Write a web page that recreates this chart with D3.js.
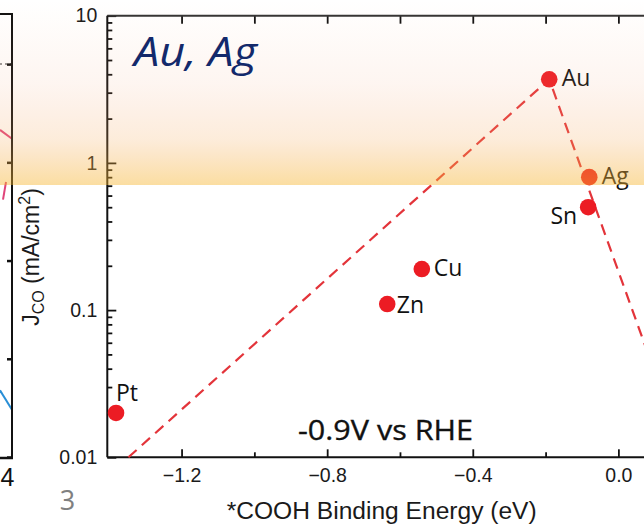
<!DOCTYPE html>
<html>
<head>
<meta charset="utf-8">
<script src="https://cdn.jsdelivr.net/npm/d3@7"></script>
<style>
  html, body { margin: 0; padding: 0; background: #fff; }
  svg { display: block; }
</style>
</head>
<body>
<div id="chart"></div>
<script>
// ---------------- DATA ----------------
const metals = ["Pt", "Zn", "Cu", "Au", "Ag", "Sn"];
const bindingEnergy = [-1.38, -0.635, -0.54, -0.19, -0.08, -0.083];   // *COOH binding energy (eV)
const jCO = [0.02, 0.11, 0.19, 3.7, 0.8, 0.5];                          // mA/cm2
const volcanoX = [-1.346, -0.19, 0.184];
const volcanoY = [0.01, 3.7, 0.01];
const xMajorTicks = [-1.2, -0.8, -0.4, 0.0];
const xMinorTicks = [-1.0, -0.6, -0.2, 0.2];
const xTopTicks = [-1.2, -1.0, -0.8, -0.6, -0.4, -0.2, 0.0, 0.2];
const yMajorTicks = [0.01, 0.1, 1, 10];
const yTickLabels = ["0.01", "0.1", "1", "10"];
// fragment of neighbouring panel (left edge)
const fragTicks = [0, 1, 2, 3, 4];
const fragPink1 = [[0, 3.33], [1, 3.24]];
const fragPink2 = [[0.25, 2.62], [0.5, 2.8]];
const fragBlue = [[0, 0.68], [1, 0.48]];

// ---------------- LAYOUT ----------------
const W = 644, H = 527;
const svg = d3.select("#chart").append("svg").attr("width", W).attr("height", H);

const defs = svg.append("defs");
const grad = defs.append("linearGradient").attr("id", "band").attr("x1", 0).attr("y1", 0).attr("x2", 0).attr("y2", 1);
grad.append("stop").attr("offset", "0%").attr("stop-color", "#f4a070").attr("stop-opacity", 0.0);
grad.append("stop").attr("offset", "45%").attr("stop-color", "#f2a072").attr("stop-opacity", 0.10);
grad.append("stop").attr("offset", "75%").attr("stop-color", "#f4aa5a").attr("stop-opacity", 0.22);
grad.append("stop").attr("offset", "100%").attr("stop-color", "#f6b52e").attr("stop-opacity", 0.45);

const x = d3.scaleLinear().domain([-1.404, 0.2]).range([107.3, 691.2]);
const y = d3.scaleLog().domain([0.01, 10]).range([457.3, 15.7]);
const xTop = x.range()[0], xBottom = y.range()[0], yTop = y.range()[1];

// ---------------- left fragment ----------------
const fy = d3.scaleLinear().domain([0, 4.5]).range([457, 15]);
const fx = d3.scaleLinear().domain([0, 1]).range([0, 12]);
const frag = svg.append("g");
frag.append("line").attr("x1", 0).attr("x2", 12).attr("y1", fy(4)).attr("y2", fy(4))
  .attr("stroke", "#999").attr("stroke-width", 2).attr("stroke-dasharray", "2,3");
const fline = d3.line().x(d => fx(d[0])).y(d => fy(d[1]));
frag.append("path").attr("d", fline(fragPink1)).attr("fill", "none").attr("stroke", "#e0457a").attr("stroke-width", 2);
frag.append("path").attr("d", fline(fragPink2)).attr("fill", "none").attr("stroke", "#e0457a").attr("stroke-width", 2);
frag.append("path").attr("d", fline(fragBlue)).attr("fill", "none").attr("stroke", "#2a8fd6").attr("stroke-width", 2);
frag.append("g").attr("transform", "translate(12,0)")
  .call(d3.axisLeft(fy).tickValues(fragTicks).tickSize(5).tickFormat(""))
  .call(g => g.select(".domain").remove())
  .selectAll("line").attr("stroke", "#111").attr("stroke-width", 2.5);
frag.append("line").attr("x1", 12).attr("x2", 12).attr("y1", 14).attr("y2", 459).attr("stroke", "#111").attr("stroke-width", 2);
frag.append("line").attr("x1", 0).attr("x2", 13).attr("y1", 14).attr("y2", 14).attr("stroke", "#111").attr("stroke-width", 2);
frag.append("line").attr("x1", 0).attr("x2", 13).attr("y1", 458).attr("y2", 458).attr("stroke", "#111").attr("stroke-width", 2.5);
frag.append("text").attr("x", 0.5).attr("y", 486).attr("text-anchor", "start")
  .attr("font-family", "Liberation Sans, Arial, sans-serif").attr("font-size", 25).attr("fill", "#111").text("4");

// ---------------- axes ----------------
const axisFont = "Liberation Sans, Arial, sans-serif";
function styleAxis(g) {
  g.select(".domain").remove();
  g.selectAll("line").attr("stroke", "#111").attr("stroke-width", 1.8);
  g.selectAll("text").attr("font-family", axisFont).attr("font-size", 19.5).attr("fill", "#1a1a1a");
}
// minor y ticks
const yMinor = [];
[0.01, 0.1, 1].forEach(d => { for (let k = 2; k <= 9; k++) yMinor.push(d * k); });
svg.append("g").attr("transform", `translate(${xTop},0)`)
  .call(d3.axisLeft(y).tickValues(yMinor).tickSize(-5).tickFormat("")).call(styleAxis);
svg.append("g").attr("transform", `translate(${xTop},0)`)
  .call(d3.axisLeft(y).tickValues(yMajorTicks).tickSize(-9).tickPadding(10)
    .tickFormat((d, i) => yTickLabels[i])).call(styleAxis);
// bottom
svg.append("g").attr("transform", `translate(0,${xBottom})`)
  .call(d3.axisBottom(x).tickValues(xMinorTicks).tickSize(-5).tickFormat("")).call(styleAxis);
svg.append("g").attr("transform", `translate(0,${xBottom})`)
  .call(d3.axisBottom(x).tickValues(xMajorTicks).tickSize(-8).tickPadding(11).tickFormat(d3.format(".1f")))
  .call(styleAxis);
// top
svg.append("g").attr("transform", `translate(0,${yTop})`)
  .call(d3.axisTop(x).tickValues(xTopTicks).tickSize(-8).tickFormat("")).call(styleAxis);
// frame lines
svg.append("line").attr("x1", xTop).attr("x2", x.range()[1]).attr("y1", xBottom).attr("y2", xBottom).attr("stroke", "#111").attr("stroke-width", 2);
svg.append("line").attr("x1", xTop).attr("x2", x.range()[1]).attr("y1", yTop).attr("y2", yTop).attr("stroke", "#333").attr("stroke-width", 2);
svg.append("line").attr("x1", xTop).attr("x2", xTop).attr("y1", yTop).attr("y2", xBottom).attr("stroke", "#111").attr("stroke-width", 2);

// axis titles
svg.append("text").attr("x", 381.7).attr("y", 519).attr("text-anchor", "middle")
  .attr("font-family", axisFont).attr("font-size", 23).attr("fill", "#1a1a1a")
  .attr("textLength", 310).attr("lengthAdjust", "spacingAndGlyphs")
  .text("*COOH Binding Energy (eV)");
const yt = svg.append("text").attr("transform", "translate(39,257) rotate(-90)").attr("text-anchor", "middle")
  .attr("font-family", axisFont).attr("font-size", 23).attr("fill", "#1a1a1a");
yt.append("tspan").text("J");
yt.append("tspan").attr("font-size", 16).attr("dy", 5).text("CO");
yt.append("tspan").attr("dy", -5).text(" (mA/cm");
yt.append("tspan").attr("font-size", 16).attr("dy", -9).text("2");
yt.append("tspan").attr("dy", 9).text(")");

// ---------------- volcano dashed line ----------------
const vpts = volcanoX.map((d, i) => [d, volcanoY[i]]);
svg.append("path").attr("d", d3.line().x(d => x(d[0])).y(d => y(d[1]))(vpts))
  .attr("fill", "none").attr("stroke", "#e3343a").attr("stroke-width", 2.2).attr("stroke-dasharray", "11,7");

// ---------------- points ----------------
const pts = metals.map((m, i) => ({ name: m, be: bindingEnergy[i], j: jCO[i] }));
svg.append("g").selectAll("circle").data(pts).join("circle")
  .attr("cx", d => x(d.be)).attr("cy", d => y(d.j)).attr("r", 8.3).attr("fill", "#ec1c24");

const labelStyle = {
  Pt: { dx: 0, dy: -11.5, anchor: "start" },
  Zn: { dx: 9.5, dy: 9, anchor: "start" },
  Cu: { dx: 12, dy: 7, anchor: "start" },
  Au: { dx: 12.5, dy: 7, anchor: "start" },
  Ag: { dx: 12.5, dy: 7, anchor: "start" },
  Sn: { dx: -11, dy: 17, anchor: "end" }
};
svg.append("g").selectAll("text").data(pts).join("text")
  .attr("x", d => x(d.be) + labelStyle[d.name].dx)
  .attr("y", d => y(d.j) + labelStyle[d.name].dy)
  .attr("text-anchor", d => labelStyle[d.name].anchor)
  .attr("font-family", "Open Sans, Noto Sans, sans-serif").attr("font-size", 23).attr("fill", "#111")
  .text(d => d.name);

svg.append("text").attr("x", 298).attr("y", 439.5)
  .attr("font-family", "Open Sans, Noto Sans, sans-serif").attr("font-size", 27).attr("fill", "#111")
  .attr("stroke", "#111").attr("stroke-width", 0.35)
  .attr("textLength", 175).attr("lengthAdjust", "spacingAndGlyphs")
  .text("-0.9V vs RHE");

// ---------------- highlight band ----------------
svg.append("rect").attr("x", 0).attr("y", 0).attr("width", W).attr("height", 185).attr("fill", "url(#band)");

svg.append("text").attr("x", 134).attr("y", 65.7)
  .attr("font-family", "Open Sans, Noto Sans, sans-serif").attr("font-style", "italic")
  .attr("font-size", 40).attr("fill", "#13296b")
  .attr("textLength", 123).attr("lengthAdjust", "spacingAndGlyphs")
  .text("Au, Ag");

// page number
svg.append("text").attr("x", 67.5).attr("y", 510).attr("text-anchor", "middle")
  .attr("font-family", "Open Sans, Noto Sans, sans-serif").attr("font-size", 27).attr("fill", "#808080")
  .text("3");
</script>
</body>
</html>
